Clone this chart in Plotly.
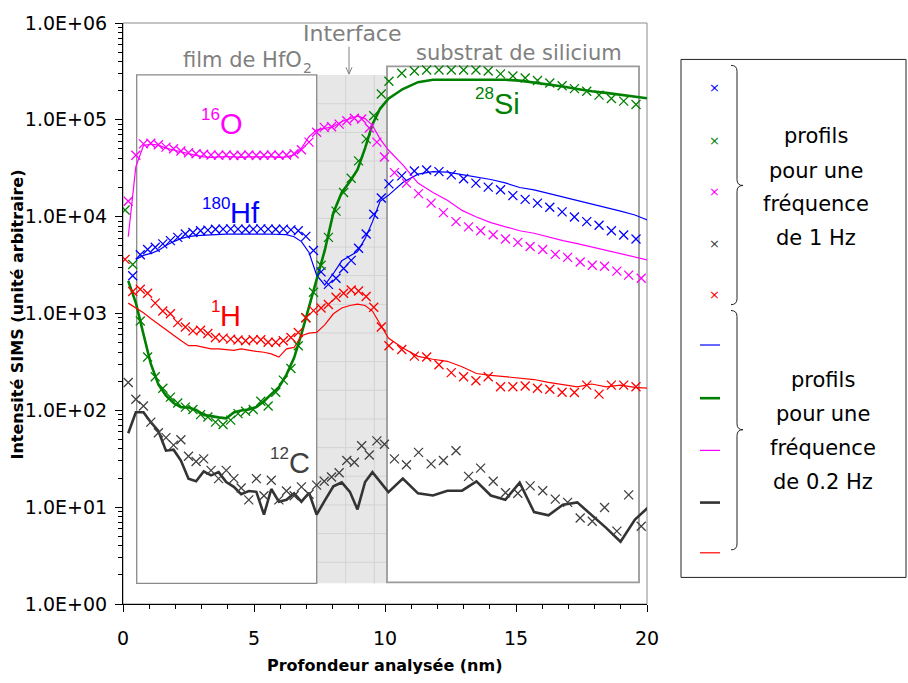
import plotly.graph_objects as go

# ---------------- depth scales (nm) ----------------
# 1 Hz acquisition, Hf / Si / H channels
depth_1hz_a = [0.08, 0.37, 0.66, 0.94, 1.23, 1.52, 1.81, 2.09, 2.38, 2.67, 2.96, 3.24, 3.53, 3.82,
               4.11, 4.39, 4.68, 4.97, 5.26, 5.54, 5.83, 6.12, 6.41, 6.69, 6.98, 7.27, 7.56, 7.84,
               8.13, 8.42, 8.71, 8.99, 9.28, 9.57, 9.86, 10.15, 10.64, 11.12, 11.59, 12.06, 12.53,
               13.00, 13.47, 13.94, 14.41, 14.88, 15.35, 15.82, 16.29, 16.76, 17.23, 17.70, 18.17,
               18.64, 19.11, 19.58]
# 1 Hz acquisition, O / C channels
depth_1hz_b = [0.20, 0.49, 0.78, 1.06, 1.35, 1.64, 1.93, 2.21, 2.50, 2.79, 3.08, 3.36, 3.65, 3.94,
               4.23, 4.51, 4.80, 5.09, 5.38, 5.66, 5.95, 6.24, 6.53, 6.81, 7.10, 7.39, 7.68, 7.96,
               8.25, 8.54, 8.83, 9.11, 9.40, 9.69, 9.98, 10.36, 10.82, 11.28, 11.76, 12.23, 12.71,
               13.19, 13.65, 14.13, 14.60, 15.07, 15.54, 16.02, 16.50, 16.97, 17.45, 17.91, 18.38,
               18.85, 19.30, 19.78]
# 0.2 Hz acquisition, all channels
depth_02hz = [0.20, 0.49, 0.78, 1.06, 1.35, 1.64, 1.93, 2.21, 2.50, 2.79, 3.08, 3.36, 3.65, 3.94,
              4.23, 4.51, 4.80, 5.09, 5.38, 5.66, 5.95, 6.24, 6.53, 6.81, 7.10, 7.39, 7.70, 8.03,
              8.35, 8.66, 8.95, 9.24, 9.52, 9.81, 10.13, 10.68, 11.26, 11.83, 12.38, 12.94, 13.49,
              14.04, 14.59, 15.14, 15.69, 16.24, 16.79, 17.34, 17.89, 18.44, 18.99, 19.54, 20.09]

# ---------------- SIMS intensities, 1 Hz ----------------
hf180_1hz = [None, 2.45e3, 4.05e3, 4.58e3, 4.83e3, 5.24e3, 5.66e3, 6.11e3, 6.62e3, 6.87e3, 7.15e3,
             7.26e3, 7.40e3, 7.44e3, 7.48e3, 7.44e3, 7.40e3, 7.44e3, 7.48e3, 7.44e3, 7.40e3, 7.44e3,
             7.30e3, 7.15e3, 6.26e3, 4.48e3, 2.69e3, 2.00e3, 2.31e3, 2.92e3, 3.54e3, 4.72e3, 6.62e3,
             1.06e4, 1.56e4, 2.18e4, 2.64e4, 2.96e4, 3.03e4, 2.92e4, 2.70e4, 2.46e4, 2.22e4, 2.02e4,
             1.90e4, 1.65e4, 1.51e4, 1.38e4, 1.25e4, 1.12e4, 9.93e3, 8.89e3, 8.17e3, 7.15e3, 6.47e3,
             5.89e3]
si28_1hz = [1.17e4, 3.21e3, 8.36e2, 3.55e2, 2.22e2, 1.69e2, 1.37e2, 1.19e2, 1.08e2, 1.02e2, 90.3,
            85.5, 75.5, 71.5, 79.2, 92.4, 97.8, 1.02e2, 1.24e2, 1.11e2, 1.54e2, 2.05e2, 2.70e2,
            4.65e2, 9.04e2, 1.66e3, 3.15e3, 6.11e3, 1.14e4, 1.78e4, 2.49e4, 3.77e4, 6.36e4, 1.10e5,
            1.85e5, 2.50e5, 3.03e5, 3.20e5, 3.27e5, 3.27e5, 3.27e5, 3.27e5, 3.27e5, 3.20e5, 2.98e5,
            2.84e5, 2.70e5, 2.55e5, 2.40e5, 2.25e5, 2.10e5, 1.97e5, 1.80e5, 1.66e5, 1.56e5, 1.44e5]
o16_1hz = [1.44e4, 4.31e4, 5.65e4, 5.74e4, 5.52e4, 5.23e4, 5.03e4, 4.76e4, 4.58e4, 4.47e4, 4.41e4,
           4.34e4, 4.31e4, 4.34e4, 4.29e4, 4.31e4, 4.34e4, 4.29e4, 4.31e4, 4.34e4, 4.31e4, 4.34e4,
           4.47e4, 4.90e4, 5.89e4, 7.43e4, 8.36e4, 8.50e4, 9.03e4, 9.78e4, 1.04e5, 1.02e5, 8.22e4,
           5.89e4, 4.14e4, 2.85e4, 2.22e4, 1.73e4, 1.38e4, 1.10e4, 8.89e3, 7.85e3, 7.15e3, 6.51e3,
           5.89e3, 5.43e3, 4.92e3, 4.58e3, 4.08e3, 3.80e3, 3.40e3, 3.15e3, 3.08e3, 2.74e3, 2.49e3,
           2.31e3]
c12_1hz = [1.94e2, 1.30e2, 1.11e2, 75.5, 58.8, 52.3, 43.7, 49.6, 33.5, 29.6, 31.5, 24.0, 19.7, 24.0,
           19.7, 15.8, 11.9, 19.7, 13.1, 19.0, 11.9, 14.7, 13.1, 16.2, 13.6, 16.9, 18.5, 20.5, 22.7,
           30.3, 29.1, 43.1, 34.6, 48.4, 44.7, 31.5, 27.4, 36.8, 28.0, 30.3, 38.3, 20.8, 25.3, 18.5,
           14.1, 13.9, 16.6, 14.8, 12.1, 11.2, 7.72, 7.15, 9.93, 5.66, 13.4, 6.36]
h1_1hz = [3.62e3, 1.69e3, 1.78e3, 1.62e3, 1.28e3, 1.06e3, 9.93e2, 8.05e2, 7.26e2, 6.61e2, 6.72e2,
          6.22e2, 5.66e2, 5.57e2, 5.44e2, 5.32e2, 5.23e2, 5.35e2, 5.35e2, 5.04e2, 5.04e2, 5.23e2,
          5.66e2, 6.37e2, 9.04e2, 1.07e3, 1.14e3, 1.24e3, 1.47e3, 1.62e3, 1.75e3, 1.71e3, 1.50e3,
          1.16e3, 7.26e2, 4.65e2, 4.24e2, 3.63e2, 3.55e2, 2.96e2, 2.45e2, 2.22e2, 2.02e2, 2.22e2,
          1.75e2, 1.75e2, 1.78e2, 1.69e2, 1.65e2, 1.54e2, 1.53e2, 1.82e2, 1.47e2, 1.82e2, 1.82e2,
          1.75e2]

# ---------------- SIMS intensities, 0.2 Hz ----------------
hf180_02hz = [None, 3.62e3, 3.98e3, 4.17e3, 4.48e3, 5.03e3, 5.53e3, 5.93e3, 6.21e3, 6.36e3, 6.44e3,
              6.51e3, 6.59e3, 6.59e3, 6.62e3, 6.59e3, 6.55e3, 6.59e3, 6.62e3, 6.59e3, 6.59e3, 6.51e3,
              6.21e3, 5.53e3, 4.27e3, 2.49e3, 1.97e3, 2.59e3, 3.50e3, 3.89e3, 4.37e3, 5.93e3, 8.83e3,
              1.44e4, 1.66e4, 2.25e4, 2.75e4, 2.92e4, 2.88e4, 2.72e4, 2.56e4, 2.42e4, 2.23e4, 2.00e4,
              1.89e4, 1.74e4, 1.60e4, 1.48e4, 1.35e4, 1.25e4, 1.14e4, 1.04e4, 9.04e3]
si28_02hz = [2.17e3, 1.29e3, 6.12e2, 3.03e2, 1.85e2, 1.42e2, 1.19e2, 1.08e2, 1.07e2, 1.01e2, 89.7,
             86.5, 84.6, 82.6, 95.1, 99.6, 1.02e2, 1.08e2, 1.24e2, 1.47e2, 1.73e2, 2.34e2, 3.49e2,
             6.12e2, 1.15e3, 2.17e3, 4.48e3, 1.10e4, 1.78e4, 2.31e4, 3.05e4, 5.11e4, 8.97e4, 1.30e5,
             1.65e5, 2.08e5, 2.45e5, 2.59e5, 2.59e5, 2.59e5, 2.59e5, 2.59e5, 2.59e5, 2.54e5, 2.43e5,
             2.32e5, 2.21e5, 2.08e5, 1.97e5, 1.90e5, 1.81e5, 1.73e5, 1.66e5]
o16_02hz = [6.21e3, 3.28e4, 5.44e4, 5.61e4, 5.48e4, 5.11e4, 4.88e4, 4.66e4, 4.44e4, 4.29e4, 4.14e4,
            4.10e4, 4.14e4, 4.18e4, 4.14e4, 4.10e4, 4.14e4, 4.14e4, 4.18e4, 4.14e4, 4.10e4, 4.14e4,
            4.34e4, 5.10e4, 6.69e4, 7.88e4, 8.17e4, 8.50e4, 9.62e4, 1.03e5, 1.09e5, 1.03e5, 8.76e4,
            6.36e4, 4.88e4, 3.43e4, 2.22e4, 1.78e4, 1.48e4, 1.16e4, 9.93e3, 8.69e3, 7.85e3, 7.15e3,
            6.74e3, 6.14e3, 5.66e3, 5.27e3, 4.88e3, 4.53e3, 4.17e3, 3.85e3, 3.54e3]
c12_02hz = [57.9, 95.5, 95.5, 75.5, 61.2, 38.3, 39.2, 30.3, 19.7, 18.5, 23.4, 21.3, 23.0, 18.2, 16.2,
            13.6, 14.7, 14.4, 8.36, 15.4, 11.4, 11.9, 13.9, 11.4, 14.1, 8.36, 11.7, 16.4, 18.0, 14.4,
            9.47, 18.2, 23.0, 18.2, 14.3, 19.7, 13.9, 13.2, 14.8, 14.8, 18.5, 13.2, 11.9, 17.9, 8.89,
            8.23, 10.6, 11.2, 8.36, 6.11, 4.40, 7.44, 10.2]
h1_02hz = [1.28e3, 1.14e3, 1.02e3, 8.89e2, 7.73e2, 6.72e2, 5.97e2, 5.25e2, 4.65e2, 4.65e2, 4.46e2,
           4.31e2, 4.31e2, 4.21e2, 4.16e2, 4.31e2, 4.16e2, 4.06e2, 3.98e2, 3.83e2, 3.55e2, 4.31e2,
           4.46e2, 5.90e2, 6.26e2, 6.37e2, 7.64e2, 9.93e2, 1.14e3, 1.21e3, 1.25e3, 1.21e3, 1.06e3,
           7.73e2, 5.57e2, 4.41e2, 3.61e2, 3.37e2, 3.21e2, 2.82e2, 2.40e2, 2.30e2, 2.22e2, 2.18e2,
           2.08e2, 1.94e2, 1.85e2, 1.75e2, 1.87e2, 1.75e2, 1.82e2, 1.73e2, 1.69e2]

# axis ticks
y_tickvals = [1, 10, 100, 1e3, 1e4, 1e5, 1e6]
y_ticktext = ["1.0E+00", "1.0E+01", "1.0E+02", "1.0E+03", "1.0E+04", "1.0E+05", "1.0E+06"]
x_tickvals = [0, 5, 10, 15, 20]

# ---------------- styling ----------------
BLUE, GREEN, MAGENTA, DARK, RED = "#0000FF", "#008000", "#FF00FF", "#404040", "#FF0000"
GREY = "#8a8a8a"
TEXT_FONT = "DejaVu Sans"
LABEL_FONT = "Liberation Sans"

W, H = 908, 683
ML, MR, MT, MB = 123, 261, 14, 79
PW, PH = W - ML - MR, H - MT - MB


def fx(px):
    """pixel column -> paper x"""
    return (px - ML) / PW


def fy(py):
    """pixel row -> paper y"""
    return (H - MB - py) / PH


fig = go.Figure()

series = [
    (depth_1hz_a, hf180_1hz, depth_02hz, hf180_02hz, BLUE, 1.2),
    (depth_1hz_a, si28_1hz, depth_02hz, si28_02hz, GREEN, 2.6),
    (depth_1hz_b, o16_1hz, depth_02hz, o16_02hz, MAGENTA, 1.2),
    (depth_1hz_b, c12_1hz, depth_02hz, c12_02hz, "#333333", 2.6),
    (depth_1hz_a, h1_1hz, depth_02hz, h1_02hz, RED, 1.2),
]

for _, _, xs, ys, col, lw in series:
    fig.add_trace(go.Scatter(x=xs, y=ys, mode="lines",
                             line=dict(color=col, width=lw),
                             hoverinfo="skip", showlegend=False))

marker_cols = [BLUE, GREEN, MAGENTA, DARK, RED]
for (xs, ys, _, _, _, _), col in zip(series, marker_cols):
    fig.add_trace(go.Scatter(x=xs, y=ys, mode="markers",
                             marker=dict(symbol="x-thin", size=9,
                                         line=dict(color=col, width=1.3)),
                             hoverinfo="skip", showlegend=False))

shapes = []
# plot frame (top / right sides in grey)
shapes.append(dict(type="rect", xref="paper", yref="paper", x0=0, x1=1, y0=0, y1=1,
                   line=dict(color=GREY, width=1), layer="below"))
# interface band with fine grid
shapes.append(dict(type="rect", xref="paper", yref="paper",
                   x0=fx(316.7), x1=fx(387), y0=fy(583), y1=fy(66.7),
                   fillcolor="#e7e7e7", line=dict(width=0), layer="below"))
for gx in (345.7, 374.3):
    shapes.append(dict(type="line", xref="paper", yref="paper",
                       x0=fx(gx), x1=fx(gx), y0=fy(583), y1=fy(66.7),
                       line=dict(color="#d3d3d3", width=1), layer="below"))
gy = 96.0
while gy < 583:
    shapes.append(dict(type="line", xref="paper", yref="paper",
                       x0=fx(316.7), x1=fx(387), y0=fy(gy), y1=fy(gy),
                       line=dict(color="#d3d3d3", width=1), layer="below"))
    gy += 29.1
# film and substrate boxes
shapes.append(dict(type="rect", xref="paper", yref="paper",
                   x0=fx(136.7), x1=fx(316.7), y0=fy(583), y1=fy(66.7),
                   line=dict(color=GREY, width=1.3), layer="below"))
shapes.append(dict(type="rect", xref="paper", yref="paper",
                   x0=fx(387), x1=fx(639), y0=fy(582), y1=fy(58),
                   line=dict(color="#9a9a9a", width=1.8), layer="below"))
# arrow pointing at the interface band
shapes.append(dict(type="line", xref="paper", yref="paper",
                   x0=fx(349), x1=fx(349), y0=fy(38), y1=fy(65),
                   line=dict(color="#808080", width=1)))
shapes.append(dict(type="path", xref="paper", yref="paper",
                   path=f"M {fx(346)},{fy(59)} L {fx(349)},{fy(66)} L {fx(352)},{fy(59)}",
                   line=dict(color="#808080", width=1)))

# ---------------- side key ----------------
shapes.append(dict(type="rect", xref="paper", yref="paper",
                   x0=fx(681), x1=fx(906), y0=fy(577), y1=fy(51),
                   line=dict(color="#222222", width=1)))
key_lines = [(341, BLUE, 1.2), (395, GREEN, 2.6), (448, MAGENTA, 1.2),
             (501, "#333333", 2.6), (552, RED, 1.2)]
for yy, col, lw in key_lines:
    shapes.append(dict(type="line", xref="paper", yref="paper",
                       x0=fx(700), x1=fx(720), y0=fy(yy), y1=fy(yy),
                       line=dict(color=col, width=lw)))


def brace(xl, xm, xt, yt, ytip, yb, r=6):
    pts = [
        f"M {fx(xl)},{fy(yt)}",
        f"Q {fx(xm)},{fy(yt)} {fx(xm)},{fy(yt + r)}",
        f"L {fx(xm)},{fy(ytip - r)}",
        f"Q {fx(xm)},{fy(ytip)} {fx(xt)},{fy(ytip)}",
        f"Q {fx(xm)},{fy(ytip)} {fx(xm)},{fy(ytip + r)}",
        f"L {fx(xm)},{fy(yb - r)}",
        f"Q {fx(xm)},{fy(yb)} {fx(xl)},{fy(yb)}",
    ]
    return " ".join(pts)


for (yt, ytip, yb) in [(57, 179, 300), (306, 427, 549)]:
    shapes.append(dict(type="path", xref="paper", yref="paper",
                       path=brace(731, 737, 743, yt, ytip, yb),
                       line=dict(color="#222222", width=1)))

annotations = []


def text_at(px, py, txt, size, color, family=TEXT_FONT, xanchor="center", angle=0):
    annotations.append(dict(xref="paper", yref="paper", x=fx(px), y=fy(py), text=txt,
                            showarrow=False, xanchor=xanchor, yanchor="middle",
                            textangle=angle, borderpad=0,
                            font=dict(family=family, size=size, color=color)))


key_marks = [(80, BLUE), (133, GREEN), (185, MAGENTA), (238, DARK), (290, RED)]
for yy, col in key_marks:
    text_at(714, yy, "×", 13, col)

for lines, cx, rows in [(["profils", "pour une", "fréquence", "de 1 Hz"], 816, [128.5, 164, 198, 232]),
                        (["profils", "pour une", "fréquence", "de 0.2 Hz"], 823, [377, 411.5, 446, 480])]:
    for txt, yy in zip(lines, rows):
        text_at(cx, yy, txt, 21, "#000000")

# region captions
text_at(352, 25, "Interface", 22, "#808080")
text_at(303, 52, "film de HfO", 21, "#808080", xanchor="right")
text_at(302, 60, "2", 14, "#808080", xanchor="left")
text_at(519, 44, "substrat de silicium", 21, "#808080")

# species labels: isotope mass number + element symbol
species = [("16", "O", 219, 117, MAGENTA),
           ("180", "Hf", 229, 207, BLUE),
           ("1", "H", 219, 312, RED),
           ("12", "C", 288, 461, DARK),
           ("28", "Si", 493, 96, GREEN)]
for mass, sym, px, py, col in species:
    text_at(px, py, sym, 29, col, family=LABEL_FONT, xanchor="left")
    text_at(px + 2, py - 10, mass, 17, col, family=LABEL_FONT, xanchor="right")

# axis titles
text_at(385, 666, "<b>Profondeur analysée (nm)</b>", 16, "#000000")
text_at(17, 310, "<b>Intensité SIMS (unité arbitraire)</b>", 16, "#000000", angle=-90)

fig.update_layout(
    width=W, height=H,
    margin=dict(l=ML, r=MR, t=MT, b=MB, pad=0),
    paper_bgcolor="white", plot_bgcolor="white",
    shapes=shapes, annotations=annotations,
    showlegend=False,
    xaxis=dict(range=[0, 20], tickvals=x_tickvals, ticks="outside", ticklen=7,
               tickcolor="black", showline=True, linecolor="black", linewidth=1,
               showgrid=False, zeroline=False, ticklabelstandoff=10,
               tickfont=dict(family="DejaVu Sans", size=19, color="black"),
               minor=dict(ticks="outside", ticklen=4, dtick=1, tickcolor="black", showgrid=False)),
    yaxis=dict(type="log", range=[0, 6], tickvals=y_tickvals, ticktext=y_ticktext,
               ticks="outside", ticklen=7, tickcolor="black", showline=True,
               linecolor="black", linewidth=1, showgrid=False, zeroline=False,
               ticklabelstandoff=4,
               tickfont=dict(family="DejaVu Sans", size=19, color="black"),
               minor=dict(ticks="outside", ticklen=4, dtick="D1", tickcolor="black",
                          showgrid=False)),
)

fig.write_html("out.html", config={"displayModeBar": False})
